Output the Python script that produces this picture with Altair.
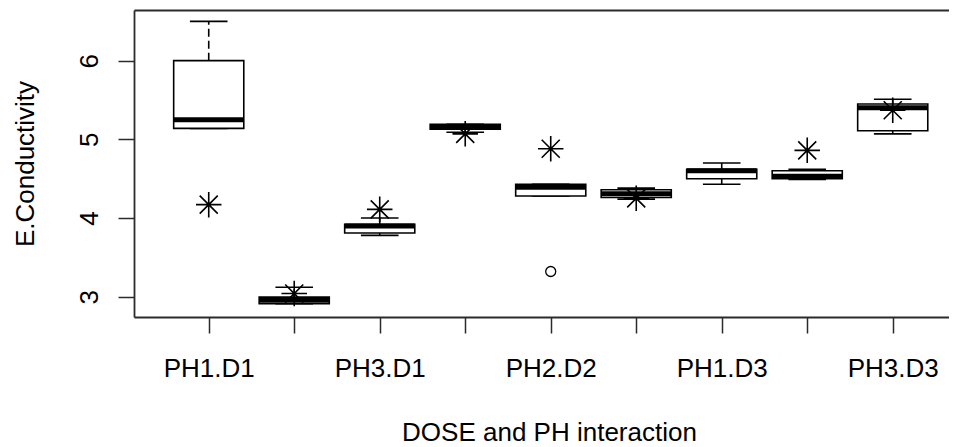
import json
import altair as alt
import pandas as pd

# ---- data ----
categories = ["PH1.D1", "PH2.D1", "PH3.D1", "PH1.D2", "PH2.D2",
              "PH3.D2", "PH1.D3", "PH2.D3", "PH3.D3"]
lower_whisker = [5.14, 2.91, 3.78, 5.09, 4.28, 4.24, 4.43, 4.49, 5.07]
q1 = [5.14, 2.91, 3.81, 5.13, 4.28, 4.26, 4.50, 4.50, 5.11]
median = [5.25, 2.955, 3.90, 5.16, 4.39, 4.31, 4.60, 4.53, 5.40]
q3 = [6.00, 2.995, 3.92, 5.19, 4.43, 4.36, 4.62, 4.60, 5.45]
upper_whisker = [6.50, 3.12, 4.00, 5.19, 4.43, 4.38, 4.70, 4.62, 5.51]
star_values = [4.17, 3.04, 4.11, 5.07, 4.88, 4.25, None, 4.86, 5.37]
outlier_groups = ["PH2.D2"]
outlier_values = [3.32]

shown_labels = [c if i % 2 == 0 else "" for i, c in enumerate(categories)]

BOX_HALF = 0.41
STAPLE_HALF = 0.22

pos = list(range(1, len(categories) + 1))
boxes = pd.DataFrame({
    "group": categories, "pos": pos,
    "lo": lower_whisker, "q1": q1, "med": median, "q3": q3, "hi": upper_whisker,
})
boxes["left"] = boxes["pos"] - BOX_HALF
boxes["right"] = boxes["pos"] + BOX_HALF
boxes["sleft"] = boxes["pos"] - STAPLE_HALF
boxes["sright"] = boxes["pos"] + STAPLE_HALF

stars = pd.DataFrame({"group": categories, "pos": pos, "v": star_values}).dropna()
outs = pd.DataFrame({"group": outlier_groups,
                     "pos": [categories.index(g) + 1 for g in outlier_groups],
                     "v": outlier_values})

FONT = "Liberation Sans"
FS = 26
INK = "#000000"
FRAME = "#2b2b2b"

PLOT_W = 815
x_scale = alt.Scale(domain=[0.126, 0.126 + PLOT_W / 85.5], nice=False, zero=False)
y_scale = alt.Scale(domain=[2.742, 6.644], nice=False, zero=False)

label_expr = "%s[datum.value - 1]" % json.dumps(shown_labels)

x_axis = alt.Axis(
    values=pos, labelExpr=label_expr, title="DOSE and PH interaction",
    grid=False, orient="bottom", tickSize=16, tickWidth=1.5, tickColor=FRAME,
    domainColor=FRAME, domainWidth=1.8, labelFont=FONT, labelFontSize=FS,
    labelColor=INK, labelPadding=43, labelBaseline="alphabetic",
    labelOverlap=False, labelFlush=False, titleFont=FONT, titleFontSize=FS,
    titleFontWeight="normal", titleColor=INK, titleX=415, titleY=123,
    titleBaseline="alphabetic", titleAlign="center", titleAnchor="middle",
)
y_axis = alt.Axis(
    values=[3, 4, 5, 6], title="E.Conductivity", grid=False, tickSize=16,
    tickWidth=1.5, tickColor=FRAME, domainColor=FRAME, domainWidth=1.8,
    labelFont=FONT, labelFontSize=FS, labelColor=INK, labelAngle=270,
    labelAlign="center", labelBaseline="alphabetic", labelPadding=21,
    titleFont=FONT, titleFontSize=FS, titleFontWeight="normal", titleColor=INK,
    titleAngle=270, titleX=-101, titleY=153.5, titleBaseline="alphabetic",
    titleAlign="center",
)
top_axis = alt.Axis(orient="top", labels=False, ticks=False, title=None,
                    grid=False, domainColor=FRAME, domainWidth=1.8)

def X(field, axis=None):
    return alt.X(field, type="quantitative", scale=x_scale, axis=axis)

def Y(field):
    return alt.Y(field, type="quantitative", scale=y_scale, axis=y_axis)

base = alt.Chart(boxes)

whisk_up = base.mark_rule(color=INK, strokeWidth=1.6, strokeDash=[8, 4]).encode(
    x=X("pos", x_axis), y=Y("q3"), y2="hi:Q",
)
whisk_dn = base.mark_rule(color=INK, strokeWidth=1.6, strokeDash=[8, 4]).encode(
    x=X("pos"), y=Y("q1"), y2="lo:Q",
)
staple_hi = base.mark_rule(color=INK, strokeWidth=1.6).encode(
    x=X("sleft"), x2="sright:Q", y=Y("hi"),
)
staple_lo = base.mark_rule(color=INK, strokeWidth=1.6).encode(
    x=X("sleft"), x2="sright:Q", y=Y("lo"),
)
box = base.mark_rect(fill="white", stroke=INK, strokeWidth=1.6).encode(
    x=X("left"), x2="right:Q", y=Y("q1"), y2="q3:Q",
)
med = base.mark_rule(color=INK, strokeWidth=5).encode(
    x=X("left"), x2="right:Q", y=Y("med"),
)
outlier_pts = alt.Chart(outs).mark_point(
    shape="circle", filled=False, color=INK, strokeWidth=1.3, size=100, opacity=1
).encode(x=X("pos"), y=Y("v"))

STAR = ("M0,-1L0,1M-1,0L1,0M-0.707,-0.707L0.707,0.707"
        "M-0.707,0.707L0.707,-0.707")
star_pts = alt.Chart(stars).mark_point(
    shape=STAR, filled=False, color=INK, strokeWidth=1.6, size=650, opacity=1
).encode(x=X("pos"), y=Y("v"))

# top border of the plot frame as a label-less top axis
top_frame = alt.Chart(boxes).mark_rule(opacity=0).encode(
    x=X("pos", top_axis),
)

chart = alt.layer(
    whisk_up, whisk_dn, staple_hi, staple_lo, box, med, outlier_pts, star_pts,
    top_frame,
).resolve_axis(x="independent").properties(
    width=PLOT_W, height=307,
    autosize=alt.AutoSizeParams(type="none"),
    padding={"left": 126, "top": 2, "right": 0, "bottom": 130},
    background="white",
).configure_view(stroke=None)

chart.save("out.html", embed_options={"renderer": "svg", "actions": False})
